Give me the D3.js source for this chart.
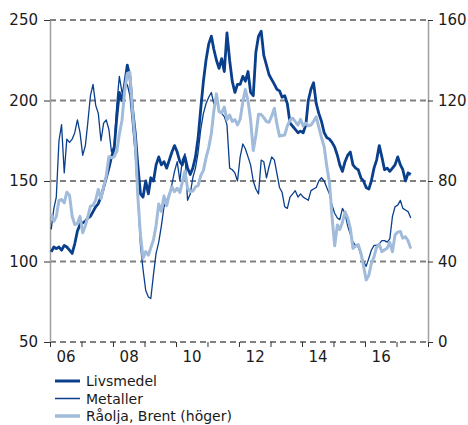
<!DOCTYPE html>
<html>
<head>
<meta charset="utf-8">
<script src="https://cdn.jsdelivr.net/npm/d3@7"></script>
<style>
  body { margin: 0; background: #fff; }
  svg text { font-family: "DejaVu Sans", Verdana, sans-serif; fill: #1a1a1a; }
</style>
</head>
<body>
<svg id="chart" width="468" height="425"></svg>
<script>
// Monthly series, January 2006 – June 2017
const firstYear = 2006;

// Food commodity index (left axis)
const livsmedel = [
  106,109,108,109,107,110,109,107,105,111,119,123,
  124,125,127,128,131,134,136,140,146,152,158,165,
  170,190,205,200,210,222,215,195,180,160,142,140,
  150,142,152,150,160,165,160,162,158,163,168,172,
  168,162,160,165,158,154,158,165,177,195,212,225,
  235,240,232,225,220,226,218,242,225,212,205,210,
  210,215,212,218,205,203,230,240,243,228,222,216,
  213,210,207,206,202,203,198,186,184,182,180,181,
  180,185,200,207,211,198,192,187,180,177,176,174,
  171,166,160,156,162,166,168,160,158,157,152,150,
  146,145,150,158,163,172,165,157,158,156,158,160,
  165,160,157,150,155,154
];

// Metals index (left axis)
const metaller = [
  120,133,140,175,185,155,176,174,176,180,188,180,
  166,172,186,203,210,197,192,175,186,188,182,168,
  172,198,215,205,208,210,203,185,167,140,110,95,
  82,78,77,92,105,112,122,134,138,142,148,156,
  162,150,163,167,138,142,152,158,168,182,192,198,
  202,205,198,201,194,192,190,185,158,157,155,150,
  165,173,170,165,160,150,145,142,163,162,152,159,
  165,163,155,146,143,134,133,140,142,144,140,142,
  140,139,138,144,145,146,150,152,150,146,142,135,
  130,127,126,133,130,122,117,112,110,109,104,100,
  97,102,107,110,110,111,113,113,112,114,128,134,
  135,138,133,132,131,127
];

// Brent crude, USD per barrel (right axis)
const brent = [
  63.6,60.0,62.3,70.4,70.8,69.1,74.4,73.0,62.5,58.4,58.8,62.4,
  54.3,57.8,62.1,67.5,67.9,70.6,75.8,71.2,77.0,82.5,92.1,91.5,
  92.0,94.8,103.3,110.2,124.6,133.5,134.0,114.6,99.6,72.8,53.2,41.6,
  44.9,43.2,46.8,50.8,57.9,68.6,64.9,72.5,67.7,73.2,77.0,74.7,
  76.4,74.3,79.3,84.9,76.3,74.8,75.0,77.0,77.8,82.7,85.3,91.5,
  96.5,103.7,114.6,123.3,114.5,113.9,116.7,110.4,112.8,109.6,110.5,107.9,
  110.7,119.3,125.5,119.8,110.3,95.2,102.6,113.2,113.0,111.5,109.5,109.2,
  112.3,116.1,108.5,102.3,102.6,102.9,107.4,110.3,111.2,109.5,107.8,110.6,
  107.4,108.8,107.4,107.8,109.7,111.9,106.8,101.6,97.1,87.4,79.4,62.3,
  47.8,58.1,55.9,59.5,64.6,61.7,56.6,46.5,47.6,48.4,44.3,38.0,
  30.8,33.2,39.1,42.3,47.1,48.5,44.9,45.8,46.6,49.5,44.8,53.3,
  54.6,54.9,51.6,52.3,50.3,46.4
];

const leftTicks = [50, 100, 150, 200, 250];
const rightTicks = [0, 40, 80, 120, 160];
const yearLabels = ["06", "08", "10", "12", "14", "16"];
const legendLabels = ["Livsmedel", "Metaller", "Råolja, Brent (höger)"];

const dark = "#0a3f8c";
const light = "#a1bbdb";

const svg = d3.select("#chart");
const plot = { left: 50, right: 428, top: 20, bottom: 342 };

const x = d3.scaleTime()
  .domain([new Date(2006, 0, 1), new Date(2018, 0, 1)])
  .range([plot.left, plot.right]);
const yL = d3.scaleLinear().domain([50, 250]).range([plot.bottom, plot.top]);
const yR = d3.scaleLinear().domain([0, 160]).range([plot.bottom, plot.top]);

const monthDate = i => new Date(firstYear, i, 15);

// dashed horizontal grid
svg.append("g").selectAll("line")
  .data(leftTicks)
  .join("line")
  .attr("x1", plot.left).attr("x2", plot.right)
  .attr("y1", d => yL(d)).attr("y2", d => yL(d))
  .attr("stroke", "#808080")
  .attr("stroke-width", 2)
  .attr("stroke-dasharray", "6,4");

// left axis
const axL = svg.append("g")
  .attr("transform", `translate(${plot.left},0)`)
  .call(d3.axisLeft(yL).tickValues(leftTicks).tickSize(6).tickSizeOuter(0).tickPadding(6));
axL.select(".domain").attr("stroke", "#a0a0a0").attr("stroke-width", 1.5);
axL.selectAll(".tick line").attr("stroke", "#333");
axL.selectAll("text").attr("font-size", 15).style("fill", "#1a1a1a");

// right axis
const axR = svg.append("g")
  .attr("transform", `translate(${plot.right},0)`)
  .call(d3.axisRight(yR).tickValues(rightTicks).tickSize(5).tickSizeOuter(0).tickPadding(5));
axR.select(".domain").attr("stroke", "#a0a0a0").attr("stroke-width", 1.5);
axR.selectAll(".tick line").attr("stroke", "#333");
axR.selectAll("text").attr("font-size", 15).style("fill", "#1a1a1a");

// bottom axis: year boundary ticks
const yearStarts = d3.range(2006, 2019).map(y => new Date(y, 0, 1));
const axB = svg.append("g")
  .attr("transform", `translate(0,${plot.bottom})`)
  .call(d3.axisBottom(x).tickValues(yearStarts).tickSize(5).tickSizeOuter(0).tickFormat(""));
axB.select(".domain").remove();
axB.selectAll(".tick line").attr("stroke", "#333");

// bottom axis: labels centred on even years
const labelDates = yearLabels.map(s => new Date(2000 + +s, 6, 1));
const axLbl = svg.append("g")
  .attr("transform", `translate(0,${plot.bottom})`)
  .call(d3.axisBottom(x).tickValues(labelDates).tickSize(0).tickPadding(9)
    .tickFormat((d, i) => yearLabels[i]));
axLbl.select(".domain").remove();
axLbl.selectAll("text").attr("font-size", 15).style("fill", "#1a1a1a");

// series
const lineL = d3.line().x((d, i) => x(monthDate(i))).y(d => yL(d));
const lineR = d3.line().x((d, i) => x(monthDate(i))).y(d => yR(d));

svg.append("path").datum(livsmedel)
  .attr("d", lineL).attr("fill", "none")
  .attr("stroke", dark).attr("stroke-width", 2.8).attr("stroke-linejoin", "round");
svg.append("path").datum(metaller)
  .attr("d", lineL).attr("fill", "none")
  .attr("stroke", dark).attr("stroke-width", 1.3).attr("stroke-linejoin", "round");
svg.append("path").datum(brent)
  .attr("d", lineR).attr("fill", "none")
  .attr("stroke", light).attr("stroke-width", 3).attr("stroke-linejoin", "round");

// legend
const legendStyles = [
  { color: dark, width: 3 },
  { color: dark, width: 1.5 },
  { color: light, width: 3.5 }
];
const lg = svg.append("g").selectAll("g")
  .data(legendLabels)
  .join("g")
  .attr("transform", (d, i) => `translate(55,${381 + i * 17.5})`);
lg.append("line")
  .attr("x1", 0).attr("x2", 25)
  .attr("stroke", (d, i) => legendStyles[i].color)
  .attr("stroke-width", (d, i) => legendStyles[i].width);
lg.append("text")
  .attr("x", 31).attr("dy", "0.36em")
  .attr("font-size", 14)
  .text(d => d);
</script>
</body>
</html>
